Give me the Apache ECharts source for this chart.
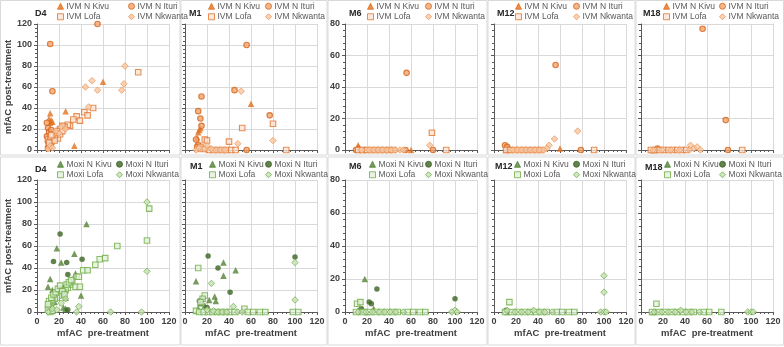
<!DOCTYPE html>
<html>
<head>
<meta charset="utf-8">
<script src="https://cdn.jsdelivr.net/npm/echarts@6/dist/echarts.min.js"></script>
<style>
html, body { margin: 0; padding: 0; background: #fff; }
#chart { width: 784px; height: 347px; }
</style>
</head>
<body>
<div id="chart"></div>
<script>
// panels and axes
var panelNames = ['D4', 'M1', 'M6', 'M12', 'M18'];
var yMaxes = [120, 120, 80, 80, 80];
var xTicks = [0, 20, 40, 60, 80, 100, 120];
var ivmNames = ['IVM N Kivu', 'IVM N Ituri', 'IVM Lofa', 'IVM Nkwanta'];
var moxiNames = ['Moxi N Kivu', 'Moxi N Ituri', 'Moxi Lofa', 'Moxi Nkwanta'];

// IVM, [pre, post]
var d4IvmKivu = [[11,30],[12,35],[13,28],[14,27],[12,26],[26,37],[34,4],[60,65]];
var d4IvmIturi = [[55,120],[12,101],[14,56],[9,26],[10,21],[11,17],[9,13],[10,8],[11,5],[12,3],[13,19],[15,15],[10,2]];
var d4IvmLofa = [[92,74],[51,40],[43,36],[46,33],[36,32],[39,28],[33,29],[30,23],[28,24],[25,22],[23,23],[21,20],[19,18],[18,16],[16,14],[15,12],[14,10],[13,8],[12,6],[11,4],[10,10],[12,12],[14,15],[17,13],[19,11],[21,15],[23,18],[16,9],[13,14],[11,7]];
var d4IvmNkwanta = [[80,80],[79,63],[77,57],[50,66],[44,60],[55,57],[47,41],[22,22],[26,20],[10,1],[12,4],[14,2],[20,16],[17,18]];

var m1IvmKivu = [[60,44],[12,17],[13,19],[14,21],[11,12]];
var m1IvmIturi = [[56,100],[15,51],[12,37],[14,30],[15,23],[45,57],[77,33],[56,0],[10,10],[12,5],[11,3]];
var m1IvmLofa = [[18,10],[52,21],[40,8],[80,25],[92,0],[20,9],[14,3],[16,1],[22,0],[26,0],[30,0],[34,0],[38,0],[42,0],[46,0]];
var m1IvmNkwanta = [[51,56],[80,9],[48,6],[20,4],[12,1],[18,1],[24,1],[28,0],[32,0],[36,0],[10,0],[13,2]];

var m6IvmKivu = [[12,3],[12,2],[11,1],[13,1],[60,0]];
var m6IvmIturi = [[56,49],[80,0],[10,0],[14,0],[18,0],[55,0]];
var m6IvmLofa = [[79,11],[92,0],[12,0],[16,0],[20,0],[24,0],[28,0],[32,0],[36,0],[40,0],[44,0]];
var m6IvmNkwanta = [[77,3],[15,0],[22,0],[26,0],[30,0],[34,0],[38,0],[42,0],[46,0],[50,0],[53,0]];

var m12IvmKivu = [[60,1],[11,0],[13,1]];
var m12IvmIturi = [[56,54],[10,3],[12,2],[79,0],[14,0]];
var m12IvmLofa = [[91,0],[11,0],[15,0],[19,0],[23,0],[27,0],[31,0],[35,0],[39,0],[43,0]];
var m12IvmNkwanta = [[76,12],[55,7],[50,3],[48,1],[45,0],[17,0],[21,0],[25,0],[29,0],[33,0],[37,0],[41,0]];

var m18IvmKivu = [[10,0],[12,0]];
var m18IvmIturi = [[56,77],[77,19],[79,0],[15,1]];
var m18IvmLofa = [[92,0],[9,0],[13,0],[17,0],[21,0],[25,0],[29,0],[33,0],[37,0],[41,0]];
var m18IvmNkwanta = [[45,3],[48,1],[51,2],[54,0],[44,0],[11,0],[19,0],[27,0],[35,0]];

// Moxi, [pre, post]
var d4MoxiKivu = [[45,80],[18,58],[22,45],[34,53],[35,35],[12,30],[10,23],[40,15],[24,4],[26,3],[26,13],[14,20],[16,9]];
var d4MoxiIturi = [[21,71],[15,46],[27,45],[41,48],[28,34],[28,2],[12,5],[20,18],[24,22]];
var d4MoxiLofa = [[102,94],[100,65],[73,60],[62,49],[57,48],[53,43],[42,38],[46,38],[36,32],[38,32],[35,23],[39,23],[32,28],[30,25],[28,22],[26,20],[24,18],[22,17],[20,15],[18,13],[16,12],[14,10],[13,8],[12,6],[11,4],[10,2],[11,10],[13,13],[15,16],[17,18],[19,21],[21,24],[23,19],[25,16],[27,25],[29,27],[31,29],[10,7],[12,0],[14,1]];
var d4MoxiNkwanta = [[100,100],[100,37],[38,5],[36,0],[67,0],[95,0],[10,0],[14,3],[18,2],[26,12],[22,8]];

var m1MoxiKivu = [[35,45],[46,38],[35,33],[10,28],[22,11],[27,14],[28,10],[14,8],[18,6],[12,3]];
var m1MoxiIturi = [[21,51],[30,40],[41,18],[100,50],[16,12],[13,10],[20,4]];
var m1MoxiLofa = [[12,40],[18,15],[16,12],[14,9],[54,3],[10,1],[13,0],[17,0],[21,0],[25,0],[29,0],[33,0],[37,0],[41,0],[45,0],[57,0],[62,0],[68,0],[73,0],[98,0],[103,0]];
var m1MoxiNkwanta = [[24,26],[100,45],[100,11],[44,5],[20,2],[26,1],[30,0],[34,0],[38,0],[48,0],[52,0]];

var m6MoxiKivu = [[18,20],[26,2],[12,1],[20,0]];
var m6MoxiIturi = [[29,14],[100,8],[22,6],[24,5],[15,2],[13,0]];
var m6MoxiLofa = [[11,5],[14,6],[10,0],[16,0],[22,0],[28,0],[33,0],[38,0],[43,0],[48,0],[57,0],[62,0],[68,0],[73,0]];
var m6MoxiNkwanta = [[100,1],[102,0],[97,0],[12,0],[19,0],[25,0],[31,0],[36,0],[41,0],[46,0],[53,0]];

var m12MoxiKivu = [[12,0]];
var m12MoxiIturi = [[11,1]];
var m12MoxiLofa = [[14,6],[10,0],[16,0],[22,0],[28,0],[33,0],[38,0],[43,0],[48,0],[57,0],[62,0],[68,0],[73,0]];
var m12MoxiNkwanta = [[100,22],[100,12],[36,1],[12,1],[19,0],[25,0],[31,0],[41,0],[46,0],[53,0],[97,0],[100,0],[102,0]];

var m18MoxiKivu = [[11,0]];
var m18MoxiIturi = [[13,0]];
var m18MoxiLofa = [[14,5],[10,0],[16,0],[22,0],[28,0],[33,0],[38,0],[43,0],[48,0],[57,0],[62,0],[73,0]];
var m18MoxiNkwanta = [[36,1],[12,0],[19,0],[25,0],[31,0],[41,0],[46,0],[53,0],[97,0],[100,0],[102,0]];

var ivmData = [
    [d4IvmKivu, d4IvmIturi, d4IvmLofa, d4IvmNkwanta],
    [m1IvmKivu, m1IvmIturi, m1IvmLofa, m1IvmNkwanta],
    [m6IvmKivu, m6IvmIturi, m6IvmLofa, m6IvmNkwanta],
    [m12IvmKivu, m12IvmIturi, m12IvmLofa, m12IvmNkwanta],
    [m18IvmKivu, m18IvmIturi, m18IvmLofa, m18IvmNkwanta]
];
var moxiData = [
    [d4MoxiKivu, d4MoxiIturi, d4MoxiLofa, d4MoxiNkwanta],
    [m1MoxiKivu, m1MoxiIturi, m1MoxiLofa, m1MoxiNkwanta],
    [m6MoxiKivu, m6MoxiIturi, m6MoxiLofa, m6MoxiNkwanta],
    [m12MoxiKivu, m12MoxiIturi, m12MoxiLofa, m12MoxiNkwanta],
    [m18MoxiKivu, m18MoxiIturi, m18MoxiLofa, m18MoxiNkwanta]
];

// marker looks
var symbols = ['triangle', 'circle', 'rect', 'diamond'];
var sizes = [6.5, 5.5, 5.5, 6.5];
var ivmStyles = [
    {color: '#E2701F', borderColor: '#E2701F', borderWidth: 0},
    {color: '#F3A46B', borderColor: '#D4631B', borderWidth: 1.1},
    {color: '#FCE4D3', borderColor: '#DF7430', borderWidth: 1.1},
    {color: '#F8C7A2', borderColor: '#EC9455', borderWidth: 0.9}
];
var moxiStyles = [
    {color: '#548235', borderColor: '#548235', borderWidth: 0},
    {color: '#3B6322', borderColor: '#3B6322', borderWidth: 0},
    {color: '#E2F0D9', borderColor: '#70AD47', borderWidth: 1.1},
    {color: '#C5E0B4', borderColor: '#70AD47', borderWidth: 0.9}
];

// layout
var plotLeft = [37, 185, 345, 494, 641];
var plotW = 132;
var rowTop = [24, 180];
var rowH = [126, 132];
var titleX = [[35, 189, 349, 497, 643], [35, 190, 349, 495, 645]];
var titleY = [[9, 9, 9, 9, 9], [165, 162, 162, 162, 163]];
var legX = [
    [[57, 128], [208, 265], [367, 425], [515, 573], [663, 719]],
    [[57, 116], [209, 265], [369, 425], [514, 573], [664, 719]]
];
var legY = [1, 159];
var boxCols = [[0.5, 180], [181, 327], [328, 487], [488, 635], [636, 783.5]];
var boxRows = [[0.5, 155], [157, 345]];

var font = 'Liberation Sans, Arial, sans-serif';
var grid = [], xAxis = [], yAxis = [], series = [], legend = [], title = [], graphic = [];

for (var r = 0; r < 2; r++) {
    var names = r === 0 ? ivmNames : moxiNames;
    var styles = r === 0 ? ivmStyles : moxiStyles;
    var rowData = r === 0 ? ivmData : moxiData;
    for (var p = 0; p < 5; p++) {
        var idx = r * 5 + p;
        grid.push({left: plotLeft[p], top: rowTop[r], width: plotW, height: rowH[r]});
        xAxis.push({
            type: 'value', gridIndex: idx, min: xTicks[0], max: xTicks[xTicks.length - 1], interval: 20,
            axisLine: {show: true, lineStyle: {color: '#595959', width: 1}},
            axisTick: {show: true, length: 3, lineStyle: {color: '#595959'}},
            minorTick: {show: true, splitNumber: 5, length: 2, lineStyle: {color: '#595959'}},
            splitLine: {show: true, lineStyle: {color: '#D9D9D9', width: 1}},
            axisLabel: {show: r === 1, margin: 5, fontSize: 9, fontWeight: 'bold', color: '#404040', fontFamily: font},
            name: r === 1 ? 'mfAC  pre-treatment' : '',
            nameLocation: 'middle', nameGap: 16,
            nameTextStyle: {fontSize: 9.5, fontWeight: 'bold', color: '#404040', fontFamily: font}
        });
        yAxis.push({
            type: 'value', gridIndex: idx, min: 0, max: yMaxes[p], interval: 20,
            axisLine: {show: true, lineStyle: {color: '#595959', width: 1}},
            axisTick: {show: true, length: 3, lineStyle: {color: '#595959'}},
            minorTick: {show: true, splitNumber: 5, length: 2, lineStyle: {color: '#595959'}},
            splitLine: {show: true, lineStyle: {color: '#D9D9D9', width: 1}},
            axisLabel: {show: p === 0 || p === 2, margin: 5, fontSize: 9, fontWeight: 'bold', color: '#404040', fontFamily: font},
            name: p === 0 ? 'mfAC post-treatment' : '',
            nameLocation: 'middle', nameRotate: 90, nameGap: 22,
            nameTextStyle: {fontSize: 9.5, fontWeight: 'bold', color: '#404040', fontFamily: font}
        });
        for (var s = 0; s < 4; s++) {
            series.push({
                type: 'scatter', name: names[s], xAxisIndex: idx, yAxisIndex: idx,
                data: rowData[p][s], symbol: symbols[s], symbolSize: sizes[s],
                itemStyle: styles[s], silent: true, z: 2 + s
            });
        }
        for (var c = 0; c < 2; c++) {
            legend.push({
                left: legX[r][p][c], top: legY[r], orient: 'vertical',
                itemWidth: 6, itemHeight: 6, itemGap: 0, padding: 0, selectedMode: false,
                itemStyle: {borderWidth: 1},
                data: [
                    {name: names[c], icon: symbols[c]},
                    {name: names[c + 2], icon: symbols[c + 2]}
                ],
                textStyle: {fontSize: 8.5, color: '#595959', fontFamily: font, lineHeight: 10.5, padding: [0, 0, 0, -2]}
            });
        }
        title.push({
            text: panelNames[p], left: titleX[r][p], top: titleY[r][p], padding: 0,
            textStyle: {fontSize: 9, fontWeight: 'bold', color: '#262626', fontFamily: font}
        });
        graphic.push({
            type: 'rect', silent: true, z: -10,
            shape: {x: boxCols[p][0], y: boxRows[r][0], width: boxCols[p][1] - boxCols[p][0], height: boxRows[r][1] - boxRows[r][0]},
            style: {fill: null, stroke: '#D9D9D9', lineWidth: 1}
        });
    }
}

var myChart = echarts.init(document.getElementById('chart'));
myChart.setOption({
    animation: false,
    backgroundColor: '#fff',
    title: title,
    legend: legend,
    grid: grid,
    xAxis: xAxis,
    yAxis: yAxis,
    series: series,
    graphic: graphic
});
</script>
</body>
</html>
